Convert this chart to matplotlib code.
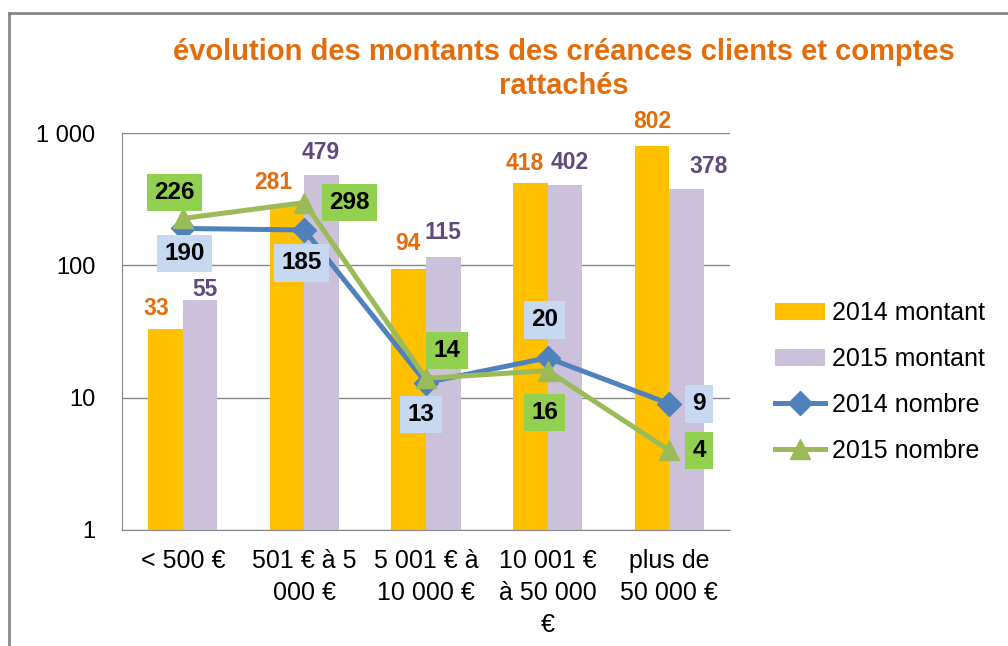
import numpy as np
import matplotlib.pyplot as plt
from matplotlib.lines import Line2D

categories = ['< 500 €', '501 € à 5\n000 €', '5 001 € à\n10 000 €', '10 001 €\nà 50 000\n€', 'plus de\n50 000 €']
montant_2014 = [33, 281, 94, 418, 802]
montant_2015 = [55, 479, 115, 402, 378]
nombre_2014 = [190, 185, 13, 20, 9]
nombre_2015 = [226, 298, 14, 16, 4]

# label offsets in pixels (dx, dy)
off_m2014 = [(-9, 21), (-14, 23), (-1, 25), (-6, 20), (0, 24)]
off_m2015 = [(5, 10), (-1, 23), (0, 25), (5, 23), (22, 22)]
off_n2014 = [(2, -25), (-3, -33), (-5, -32), (-3, 38), (30, 0)]
off_n2015 = [(-8, 26), (45, 0), (21, 28), (-3, -42), (30, 0)]

plt.rcParams['font.family'] = ['Liberation Sans', 'DejaVu Sans']

fig = plt.figure(figsize=(10.08, 6.46), dpi=100)
ax = fig.add_axes([122 / 1008, 1 - 530 / 646, 608 / 1008, 397 / 646])

x = np.arange(len(categories))
w = 0.285
b1 = ax.bar(x - w / 2, montant_2014, width=w, color='#FFC000', label='2014 montant', zorder=2)
b2 = ax.bar(x + w / 2, montant_2015, width=w, color='#CCC1DA', label='2015 montant', zorder=2)

l1, = ax.plot(x, nombre_2014, color='#4F81BD', lw=3.6, marker='D', ms=12,
              label='2014 nombre', zorder=3)
l2, = ax.plot(x, nombre_2015, color='#9BBB59', lw=3.6, marker='^', ms=15,
              label='2015 nombre', zorder=4)

ax.set_yscale('log')
ax.set_ylim(1, 1000)
ax.set_xlim(-0.5, len(categories) - 0.5)
ax.set_yticks([1, 10, 100, 1000])
ax.set_yticklabels(['1', '10', '100', '1 000'])
ax.minorticks_off()
ax.set_xticks(x)
ax.set_xticklabels(categories, linespacing=1.4)
ax.tick_params(axis='x', length=0, labelsize=18, pad=14)
ax.tick_params(axis='y', length=0, labelsize=17, pad=19)
ax.grid(axis='y', color='#878787', lw=1, zorder=1)
for s in ['top', 'right']:
    ax.spines[s].set_visible(False)
for s in ['left', 'bottom']:
    ax.spines[s].set_color('#878787')

# value labels on bars
for i, v in enumerate(montant_2014):
    ax.annotate(str(v), (x[i] - w / 2, v), xytext=off_m2014[i], textcoords='offset pixels',
                ha='center', va='center', fontsize=16.5, fontweight='bold', color='#E46C0A')
for i, v in enumerate(montant_2015):
    ax.annotate(str(v), (x[i] + w / 2, v), xytext=off_m2015[i], textcoords='offset pixels',
                ha='center', va='center', fontsize=16.5, fontweight='bold', color='#604A7B')

# boxed labels on the lines
for i, v in enumerate(nombre_2014):
    ax.annotate(str(v), (x[i], v), xytext=off_n2014[i], textcoords='offset pixels',
                ha='center', va='center', fontsize=17.5, fontweight='bold', color='black',
                bbox=dict(boxstyle='square,pad=0.3', fc='#C6D9F1', ec='none'), zorder=5)
for i, v in enumerate(nombre_2015):
    ax.annotate(str(v), (x[i], v), xytext=off_n2015[i], textcoords='offset pixels',
                ha='center', va='center', fontsize=17.5, fontweight='bold', color='black',
                bbox=dict(boxstyle='square,pad=0.3', fc='#92D050', ec='none'), zorder=5)

fig.text(564 / 1008, 1 - 69 / 646, 'évolution des montants des créances clients et comptes\nrattachés',
         ha='center', va='center', fontsize=21, fontweight='bold', color='#E46C0A',
         linespacing=1.3)

fig.legend(handles=[b1, b2, l1, l2], loc='center left', bbox_to_anchor=(752 / 1008, 1 - 382 / 646),
           frameon=False, fontsize=18, handlelength=2.0, handleheight=0.7, labelspacing=0.88,
           handletextpad=0.3)

# outer frame
fig.add_artist(Line2D([9 / 1008, 9 / 1008], [0, 1 - 13 / 646], transform=fig.transFigure,
                      color='#878787', lw=2))
fig.add_artist(Line2D([9 / 1008, 1], [1 - 13 / 646, 1 - 13 / 646], transform=fig.transFigure,
                      color='#878787', lw=2))

fig.savefig('out.png', dpi=100)
